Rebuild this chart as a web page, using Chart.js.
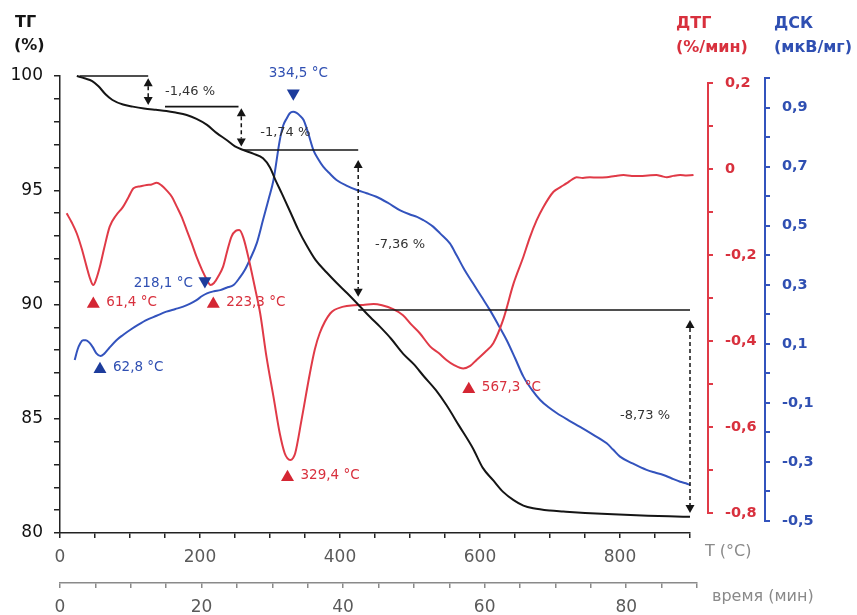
<!DOCTYPE html>
<html><head><meta charset="utf-8">
<script src="https://cdn.jsdelivr.net/npm/chart.js@4.4.1/dist/chart.umd.min.js"></script>
<style>html,body{margin:0;padding:0;background:#fff}#wrap{width:857px;height:615px}</style>
</head><body><div id="wrap"><canvas id="c" width="857" height="615"></canvas></div>
<script>
// ---------- data ----------
const tempTG = [24,35,46,55,65,75,90,104,120,137,152,165,181,195,210,224,238,250,262,276,290,300,307,317,329,340,352,365,381,395,410,429,443,457,473,490,505,520,537,552,570,590,604,619,633,648,662,676,700,719,750,790,840,870,900];
const valTG = [100.0,99.9,99.78,99.55,99.2,98.95,98.75,98.66,98.58,98.52,98.47,98.4,98.29,98.12,97.86,97.5,97.2,96.92,96.76,96.6,96.4,96.0,95.5,94.85,94.05,93.3,92.6,91.95,91.4,90.95,90.5,89.9,89.45,89.03,88.5,87.85,87.4,86.85,86.25,85.6,84.7,83.7,82.85,82.3,81.8,81.44,81.2,81.08,80.98,80.94,80.88,80.82,80.76,80.73,80.71];

const tempDTG = [9.5,17,24,31,38,43,47.5,52,57,63,71,80,90,98,105,115,124,131,138,145,152,160,167,174,181,188,195,203,210,215,220,226,233,239,245,251,256,262,271,279,286,295,305,314,321,325,329,333,336,345,357,364,371,386,405,420,433,448,460,476,490,502,514,529,541,552,563,576,586,595,607,619,633,648,662,671,681,690,705,715,724,731,738,747,757,768,781,793,805,817,829,840,852,860,867,876,886,895,905,913,919,924];
const valDTG = [-0.103,-0.125,-0.150,-0.185,-0.227,-0.255,-0.270,-0.255,-0.227,-0.185,-0.134,-0.108,-0.088,-0.065,-0.045,-0.040,-0.037,-0.036,-0.032,-0.038,-0.049,-0.065,-0.088,-0.112,-0.142,-0.172,-0.204,-0.235,-0.258,-0.270,-0.265,-0.250,-0.227,-0.190,-0.157,-0.144,-0.142,-0.160,-0.219,-0.280,-0.336,-0.437,-0.530,-0.615,-0.661,-0.673,-0.677,-0.672,-0.661,-0.584,-0.475,-0.420,-0.382,-0.336,-0.320,-0.317,-0.316,-0.314,-0.317,-0.326,-0.340,-0.362,-0.382,-0.413,-0.428,-0.444,-0.456,-0.464,-0.458,-0.444,-0.426,-0.405,-0.351,-0.266,-0.204,-0.160,-0.119,-0.090,-0.053,-0.042,-0.033,-0.025,-0.019,-0.021,-0.019,-0.020,-0.019,-0.016,-0.014,-0.016,-0.016,-0.015,-0.014,-0.017,-0.019,-0.016,-0.014,-0.015,-0.014,-0.011,-0.009,-0.010];

const tempDSC = [21,25,29,33,37,42,47,52,58,63,70,81,90,100,112,124,138,152,165,176,186,195,203,210,220,229,238,248,257,264,271,281,290,298,305,314,319,324,328,333,338,343,348,355,362,369,376,386,395,410,424,438,452,468,486,500,510,519,533,543,557,567,578,590,602,614,626,638,650,662,674,686,698,710,726,743,762,781,790,800,818,838,850,862,874,886,894,900];
const valDSC = [0.045,0.080,0.102,0.112,0.112,0.104,0.088,0.068,0.059,0.066,0.085,0.113,0.130,0.147,0.165,0.181,0.195,0.209,0.218,0.226,0.236,0.248,0.262,0.271,0.278,0.282,0.290,0.299,0.325,0.350,0.384,0.440,0.519,0.590,0.655,0.790,0.840,0.864,0.880,0.886,0.882,0.872,0.858,0.810,0.756,0.725,0.700,0.675,0.655,0.635,0.621,0.610,0.598,0.578,0.552,0.538,0.530,0.519,0.497,0.474,0.440,0.398,0.350,0.305,0.260,0.215,0.165,0.113,0.052,-0.011,-0.055,-0.090,-0.115,-0.135,-0.158,-0.181,-0.208,-0.237,-0.258,-0.282,-0.305,-0.327,-0.336,-0.344,-0.356,-0.367,-0.372,-0.378];

// peak markers
const dtgPeakT = [47.6, 219, 325, 584];
const dtgPeakV = [-0.314, -0.314, -0.717, -0.512];
const dtgPeakLabels = ['61,4 °C', '223,3 °C', '329,4 °C', '567,3 °C'];
const dscUpT = [57.1];
const dscUpV = [0.014];
const dscUpLabels = ['62,8 °C'];
const dscDownT = [207, 333.3];
const dscDownV = [0.313, 0.949];
const dscDownLabels = ['218,1 °C', '334,5 °C'];

// mass-loss steps
const stepLevels = [100, 98.66, 96.76, 89.76];
const stepLineFrom = [28, 150, 262, 426];
const stepLineTo = [126, 255, 426, 900];
const arrowT = [126, 259, 426, 900];
const arrowTop = [99.90, 98.59, 96.32, 89.32];
const arrowBottom = [98.73, 96.91, 90.34, 80.88];
const lossLabels = ['-1,46 %', '-1,74 %', '-7,36 %', '-8,73 %'];
const lossLabelT = [150, 286, 450, 800];
const lossLabelTG = [99.30, 97.51, 92.60, 85.12];

// ticks
const tempTicks = [0,50,100,150,200,250,300,350,400,450,500,550,600,650,700,750,800,850,900];
const timeTicks = [0,5,10,15,20,25,30,35,40,45,50,55,60,65,70,75,80,85,90];
const tgTicks = [80,81,82,83,84,85,86,87,88,89,90,91,92,93,94,95,96,97,98,99,100];
const dtgTicks = [0.2,0.1,0,-0.1,-0.2,-0.3,-0.4,-0.5,-0.6,-0.7,-0.8];
const dscTicks = [1.0,0.9,0.8,0.7,0.6,0.5,0.4,0.3,0.2,0.1,0,-0.1,-0.2,-0.3,-0.4,-0.5];

// ---------- styles ----------
const FONT = "'DejaVu Sans', sans-serif";
const RED = '#e03a47', RED_T = '#d8303d', RED_M = '#d42633';
const BLUE = '#3353bd', BLUE_T = '#2f4fb2', BLUE_M = '#1d3c9c';
const BLACK = '#151515';

const pts = (xs, ys) => xs.map((x, i) => ({x, y: ys[i]}));
const fmt = v => Math.abs(v) < 1e-9 ? '0' : v.toFixed(1).replace('.', ',');

const annot = {
  id: 'annot',
  afterLayout(chart) {
    const s = chart.scales.tmin;
    s.right = s.left + (chart.scales.x.right - chart.scales.x.left) + 7;
    s.width = s.right - s.left;
    s.configure();
  },
  beforeDatasetsDraw(chart) {
    const ctx = chart.ctx;
    const drawAxis = (s, a, b, col) => {
      ctx.save();
      ctx.strokeStyle = col; ctx.lineWidth = 2;
      ctx.beginPath();
      ctx.moveTo(s.left, s.getPixelForValue(a) - 1);
      ctx.lineTo(s.left, s.getPixelForValue(b) + 1);
      ctx.stroke();
      ctx.restore();
    };
    drawAxis(chart.scales.yR, dtgTicks[0], dtgTicks[dtgTicks.length - 1], RED);
    drawAxis(chart.scales.yB, dscTicks[0], dscTicks[dscTicks.length - 1], BLUE);
  },
  afterDatasetsDraw(chart) {
    const ctx = chart.ctx, xs = chart.scales.x, ys = chart.scales.y;
    ctx.save();
    // step lines
    ctx.strokeStyle = BLACK; ctx.lineWidth = 1.6;
    stepLevels.forEach((lv, i) => {
      const y = ys.getPixelForValue(lv);
      ctx.beginPath();
      ctx.moveTo(xs.getPixelForValue(stepLineFrom[i]), y);
      ctx.lineTo(xs.getPixelForValue(stepLineTo[i]), y);
      ctx.stroke();
    });
    // arrows
    ctx.fillStyle = BLACK;
    arrowT.forEach((t, i) => {
      const x = xs.getPixelForValue(t);
      const y1 = ys.getPixelForValue(arrowTop[i]);
      const y2 = ys.getPixelForValue(arrowBottom[i]);
      const h = 8, w = 4.5;
      ctx.setLineDash([4, 3]); ctx.lineWidth = 1.5;
      ctx.beginPath(); ctx.moveTo(x, y1 + h); ctx.lineTo(x, y2 - h); ctx.stroke();
      ctx.setLineDash([]);
      ctx.beginPath(); ctx.moveTo(x, y1); ctx.lineTo(x - w, y1 + h); ctx.lineTo(x + w, y1 + h); ctx.closePath(); ctx.fill();
      ctx.beginPath(); ctx.moveTo(x, y2); ctx.lineTo(x - w, y2 - h); ctx.lineTo(x + w, y2 - h); ctx.closePath(); ctx.fill();
    });
    // loss labels
    ctx.font = '13px ' + FONT; ctx.fillStyle = '#333'; ctx.textAlign = 'left'; ctx.textBaseline = 'middle';
    lossLabels.forEach((l, i) => ctx.fillText(l, xs.getPixelForValue(lossLabelT[i]), ys.getPixelForValue(lossLabelTG[i])));
    // peak labels
    ctx.font = '13.5px ' + FONT;
    const r = 7.5;
    chart.getDatasetMeta(0).data.forEach((p, i) => {
      ctx.fillStyle = RED_T; ctx.textAlign = 'left';
      ctx.fillText(dtgPeakLabels[i], p.x + 13, p.y - r / 4 + 0.5);
    });
    chart.getDatasetMeta(1).data.forEach((p, i) => {
      ctx.fillStyle = BLUE_T; ctx.textAlign = 'left';
      ctx.fillText(dscUpLabels[i], p.x + 13, p.y - r / 4 + 0.5);
    });
    chart.getDatasetMeta(2).data.forEach((p, i) => {
      ctx.fillStyle = BLUE_T;
      if (i === 0) { ctx.textAlign = 'right'; ctx.fillText(dscDownLabels[i], p.x - 12, p.y + r / 4 + 0.5); }
      else { ctx.textAlign = 'center'; ctx.fillText(dscDownLabels[i], p.x + 5, p.y - 20); }
    });
    ctx.restore();
  },
  afterDraw(chart) {
    const ctx = chart.ctx;
    ctx.save();
    ctx.textAlign = 'left'; ctx.textBaseline = 'middle';
    ctx.font = 'bold 16px ' + FONT;
    ctx.fillStyle = BLACK; ctx.fillText('ТГ', 15, 23); ctx.fillText('(%)', 14, 46);
    ctx.fillStyle = RED_T; ctx.fillText('ДТГ', 676, 24); ctx.fillText('(%/мин)', 676, 48);
    ctx.fillStyle = BLUE_T; ctx.fillText('ДСК', 774, 24); ctx.fillText('(мкВ/мг)', 774, 48);
    ctx.font = '16px ' + FONT; ctx.fillStyle = '#8a8a8a';
    ctx.fillText('T (°C)', 705, 552);
    ctx.fillText('время (мин)', 712, 597);
    ctx.restore();
  }
};

const tickGrid = (col, len, w) => ({display: true, drawOnChartArea: false, drawTicks: true, tickLength: len, color: col, lineWidth: w});

new Chart(document.getElementById('c'), {
  type: 'line',
  data: {
    datasets: [
      {type: 'scatter', data: pts(dtgPeakT, dtgPeakV), yAxisID: 'yR', xAxisID: 'x', pointStyle: 'triangle', pointRadius: 7.5, pointRotation: 0, backgroundColor: RED_M, borderWidth: 0, clip: false},
      {type: 'scatter', data: pts(dscUpT, dscUpV), yAxisID: 'yB', xAxisID: 'x', pointStyle: 'triangle', pointRadius: 7.5, pointRotation: 0, backgroundColor: BLUE_M, borderWidth: 0, clip: false},
      {type: 'scatter', data: pts(dscDownT, dscDownV), yAxisID: 'yB', xAxisID: 'x', pointStyle: 'triangle', pointRadius: 7.5, pointRotation: 180, backgroundColor: BLUE_M, borderWidth: 0, clip: false},
      {label: 'ТГ', data: pts(tempTG, valTG), yAxisID: 'y', xAxisID: 'x', borderColor: BLACK, borderWidth: 2, pointRadius: 0, cubicInterpolationMode: 'monotone', clip: false},
      {label: 'ДТГ', data: pts(tempDTG, valDTG), yAxisID: 'yR', xAxisID: 'x', borderColor: RED, borderWidth: 2, pointRadius: 0, cubicInterpolationMode: 'monotone', clip: false},
      {label: 'ДСК', data: pts(tempDSC, valDSC), yAxisID: 'yB', xAxisID: 'x', borderColor: BLUE, borderWidth: 2, pointRadius: 0, cubicInterpolationMode: 'monotone', clip: false}
    ]
  },
  options: {
    responsive: false, animation: false, devicePixelRatio: 1, events: [],
    layout: {padding: {top: 76, left: 0, right: 0, bottom: 0}},
    plugins: {legend: {display: false}, tooltip: {enabled: false}},
    scales: {
      x: {type: 'linear', position: 'bottom', weight: 0, min: 0, max: 900,
        afterBuildTicks: s => { s.ticks = tempTicks.map(v => ({value: v})); },
        afterFit: s => { s.height = 50; },
        grid: tickGrid('#222', 5, 1.5), border: {display: true, color: '#222', width: 1.5},
        ticks: {autoSkip: false, maxRotation: 0, padding: 9, color: '#5a5a5a', font: {family: FONT, size: 17}, callback: v => v % 200 === 0 ? String(v) : ''}},
      tmin: {type: 'linear', position: 'bottom', weight: 1, min: 0, max: 90,
        afterBuildTicks: s => { s.ticks = timeTicks.map(v => ({value: v})); },
        afterFit: s => { s.height = 32; },
        grid: tickGrid('#8a8a8a', 5, 1.5), border: {display: true, color: '#8a8a8a', width: 1.5},
        ticks: {autoSkip: false, maxRotation: 0, padding: 9, color: '#5a5a5a', font: {family: FONT, size: 17}, callback: v => v % 20 === 0 ? String(v) : ''}},
      y: {type: 'linear', position: 'left', weight: 0, min: 80, max: 100,
        afterBuildTicks: s => { s.ticks = tgTicks.map(v => ({value: v})); },
        afterFit: s => { s.width = 60; },
        grid: tickGrid('#222', 6, 1.5), border: {display: true, color: '#222', width: 1.5},
        ticks: {autoSkip: false, padding: 11, color: '#111', font: {family: FONT, size: 17}, callback: v => v % 5 === 0 ? String(v) : ''}},
      sp: {type: 'linear', position: 'right', weight: 0, display: true,
        afterFit: s => { s.width = 18; },
        grid: {display: false}, border: {display: false}, ticks: {display: false}},
      yR: {type: 'linear', position: 'right', weight: 1, min: -0.8465, max: 0.2163,
        afterBuildTicks: s => { s.ticks = dtgTicks.map(v => ({value: v})); },
        afterFit: s => { s.width = 57; },
        grid: tickGrid(RED, 5, 2), border: {display: false},
        ticks: {autoSkip: false, padding: 12, color: RED_T, font: {family: FONT, size: 14.5, weight: 'bold'}, callback: v => Math.round(v * 10) % 2 === 0 ? fmt(v) : ''}},
      yB: {type: 'linear', position: 'right', weight: 2, min: -0.5406, max: 1.007,
        afterBuildTicks: s => { s.ticks = dscTicks.map(v => ({value: v})); },
        afterFit: s => { s.width = 92; },
        grid: tickGrid(BLUE, 5, 2), border: {display: false},
        ticks: {autoSkip: false, padding: 12, color: BLUE_T, font: {family: FONT, size: 14.5, weight: 'bold'}, callback: v => Math.abs(Math.round(v * 10)) % 2 === 1 ? fmt(v) : ''}}
    }
  },
  plugins: [annot]
});
</script>
</body></html>
